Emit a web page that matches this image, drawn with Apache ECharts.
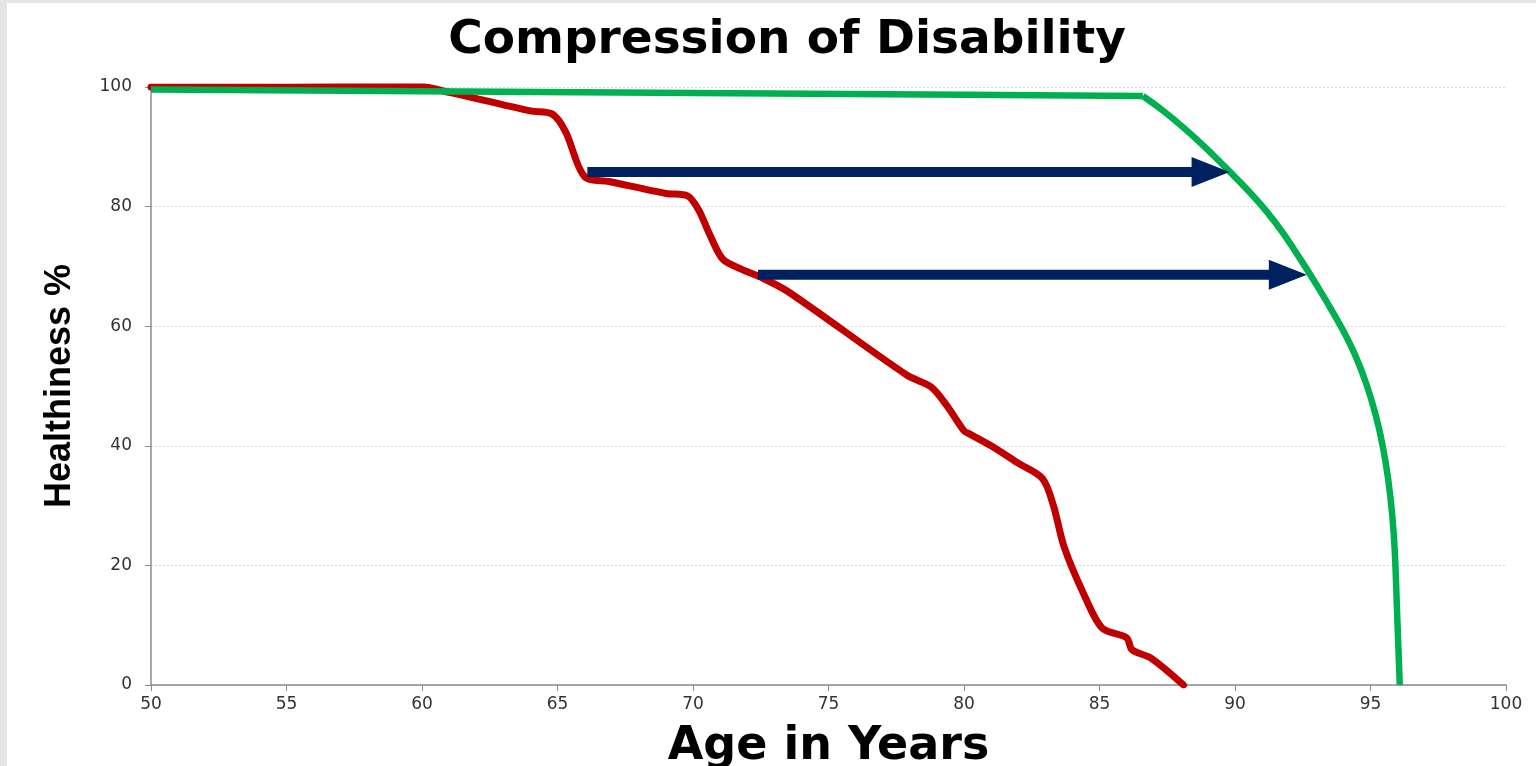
<!DOCTYPE html>
<html>
<head>
<meta charset="utf-8">
<title>Compression of Disability</title>
<script src="https://cdn.jsdelivr.net/npm/echarts@6/dist/echarts.min.js"></script>
<style>
  html, body { margin: 0; padding: 0; background: #e4e4e2; }
  #chart { position: absolute; left: 7px; top: 3px; width: 1529px; height: 763px; background: #ffffff; }
</style>
</head>
<body>
<div id="chart"></div>
<script>
// Current pattern: healthiness declines in steps from age 60 onward
const redAges = [50, 55, 59.8, 61, 64, 64.8, 65.3, 66, 66.9, 69, 69.8, 70.2, 70.6, 71.1, 71.8, 72.5, 73.5, 77.9, 78.8, 79.4, 80, 80.2, 81, 82, 82.9, 83.3, 83.7, 84.4, 85.1, 86, 86.2, 86.9, 88.1];
const redValues = [100, 100, 100.2, 99.1, 96, 95.5, 92.5, 85, 84.2, 82.2, 81.8, 79.5, 75.5, 71.2, 69.5, 68.2, 65.8, 51.8, 49.8, 46.5, 42.5, 42, 40, 37.1, 34.5, 30, 23, 15.4, 9.5, 7.9, 5.9, 4.5, 0];

// Compressed pattern: healthiness held until late life, then a rapid fall
const greenAges = [50, 60, 70, 80, 86.6, 87.3, 88.1, 88.9, 89.75, 90.5, 91.2, 91.8, 92.4, 93.0, 93.5, 94.0, 94.45, 94.85, 95.2, 95.45, 95.65, 95.8, 95.9, 95.99, 96.08];
const greenValues = [99.6, 99.3, 99.0, 98.7, 98.5, 96.2, 93.2, 89.9, 86.1, 82.6, 79.0, 75.4, 71.3, 67.0, 63.2, 59.2, 55.0, 50.3, 45.0, 40.0, 34.5, 28.5, 22, 11, 0];
// Index where the plateau ends and the late-life fall begins
const greenBreak = 4;

// Arrows: [start age, end age, healthiness level]
const arrowStart = [66.1, 72.4];
const arrowEnd = [89.8, 92.65];
const arrowLevel = [85.8, 68.6];

// Axis ticks
const xTicks = [50, 55, 60, 65, 70, 75, 80, 85, 90, 95, 100];
const yTicks = [0, 20, 40, 60, 80, 100];

const redData = redAges.map((a, i) => [a, redValues[i]]);
const greenData = greenAges.map((a, i) => [a, greenValues[i]]);
const greenPlateau = greenData.slice(0, greenBreak + 1);
const greenFall = greenData.slice(greenBreak);
const arrowData = arrowStart.map((s, i) => [s, arrowEnd[i], arrowLevel[i]]);

const GREEN = '#00b050';
const chart = echarts.init(document.getElementById('chart'));

chart.setOption({
  backgroundColor: '#ffffff',
  animation: false,
  title: {
    text: 'Compression of Disability',
    left: 775,
    textAlign: 'center',
    top: 9,
    textStyle: { fontFamily: 'DejaVu Sans', fontWeight: 'bold', fontSize: 47, color: '#000000' }
  },
  grid: { left: 144, right: 30, top: 84, bottom: 81, outerBoundsMode: 'none', containLabel: false },
  xAxis: {
    type: 'value',
    min: xTicks[0],
    max: xTicks[xTicks.length - 1],
    interval: 5,
    name: 'Age in Years',
    nameLocation: 'middle',
    nameGap: 39,
    nameTextStyle: { fontFamily: 'DejaVu Sans', fontWeight: 'bold', fontSize: 46, color: '#000000' },
    axisLine: { show: true, lineStyle: { color: '#8c8c8c', width: 1.5 } },
    axisTick: { show: true, inside: false, length: 6, lineStyle: { color: '#8c8c8c' } },
    axisLabel: { margin: 11, fontFamily: 'DejaVu Sans', fontSize: 17, color: '#333333' },
    splitLine: { show: false }
  },
  yAxis: {
    type: 'value',
    min: yTicks[0],
    max: yTicks[yTicks.length - 1],
    interval: 20,
    name: 'Healthiness %',
    nameLocation: 'middle',
    nameGap: 73,
    nameTextStyle: { fontFamily: 'Liberation Sans', fontWeight: 'bold', fontSize: 36, color: '#000000' },
    axisLine: { show: true, lineStyle: { color: '#8c8c8c', width: 1.5 } },
    axisTick: { show: true, inside: false, length: 6, lineStyle: { color: '#8c8c8c' } },
    axisLabel: { margin: 19, fontFamily: 'DejaVu Sans', fontSize: 17, color: '#333333' },
    splitLine: { show: true, lineStyle: { color: '#d6d6d6', type: [2, 2], width: 1 } }
  },
  series: [
    {
      type: 'line',
      name: 'Current',
      data: redData,
      smooth: 0.3,
      showSymbol: false,
      symbol: 'none',
      lineStyle: { color: '#c00000', width: 7, cap: 'round', join: 'round' },
      z: 3
    },
    {
      type: 'line',
      name: 'Compressed',
      data: greenPlateau,
      smooth: false,
      showSymbol: false,
      symbol: 'none',
      lineStyle: { color: GREEN, width: 6.5, join: 'round' },
      z: 4
    },
    {
      type: 'line',
      name: 'Compressed',
      data: greenFall,
      smooth: 0.3,
      showSymbol: false,
      symbol: 'none',
      lineStyle: { color: GREEN, width: 6.5, join: 'round' },
      z: 4
    },
    {
      type: 'custom',
      name: 'Shift',
      data: arrowData,
      z: 5,
      renderItem: function (params, api) {
        const s = api.coord([api.value(0), api.value(2)]);
        const e = api.coord([api.value(1), api.value(2)]);
        const y = s[1];
        const shaft = 5, head = 15, headLen = 38;
        const bx = e[0] - headLen;
        return {
          type: 'polygon',
          shape: {
            points: [
              [s[0], y - shaft], [bx, y - shaft], [bx, y - head], [e[0], y],
              [bx, y + head], [bx, y + shaft], [s[0], y + shaft]
            ]
          },
          style: { fill: '#002060' }
        };
      }
    }
  ]
});
</script>
</body>
</html>
